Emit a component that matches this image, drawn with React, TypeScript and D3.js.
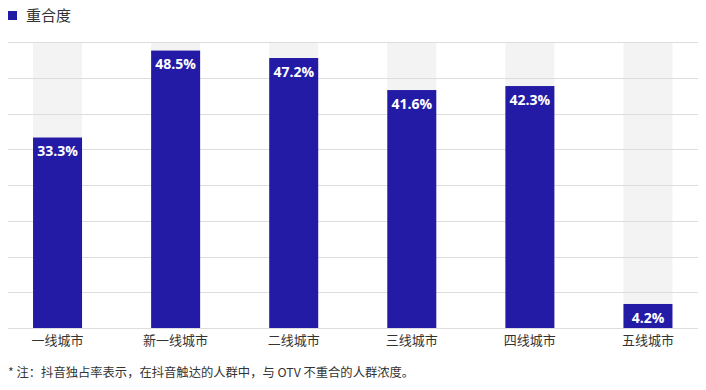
import { useEffect, useRef } from "react";
import * as d3 from "d3";

const categories = ["一线城市", "新一线城市", "二线城市", "三线城市", "四线城市", "五线城市"];
const values = [33.3, 48.5, 47.2, 41.6, 42.3, 4.2];
const legendLabel = "重合度";
const footnote = "* 注：抖音独占率表示，在抖音触达的人群中，与 OTV 不重合的人群浓度。";

const W = 706;
const H = 390;

const App = () => {
  const svgRef = useRef<SVGSVGElement>(null);

  useEffect(() => {
    const svg = d3.select(svgRef.current);
    svg.selectAll("*").remove();

    const font = "'Noto Sans CJK SC', 'Noto Sans', sans-serif";
    const top = 42;
    const bottom = 328;
    const left = 8;
    const right = 698;

    const x = d3
      .scaleBand()
      .domain(categories)
      .range([-1.5, 707])
      .paddingInner(0.585)
      .paddingOuter(0.2925);

    const y = d3.scaleLinear().domain([0, 50]).range([bottom, top]);

    // legend
    svg.append("rect").attr("x", 8).attr("y", 11).attr("width", 9).attr("height", 9).attr("fill", "#231ba6");
    svg
      .append("text")
      .attr("x", 26)
      .attr("y", 16)
      .attr("dy", "0.36em")
      .attr("font-family", font)
      .attr("font-size", 15)
      .attr("fill", "#333")
      .text(legendLabel);

    // background bars
    svg
      .selectAll(".bg")
      .data(categories)
      .enter()
      .append("rect")
      .attr("x", (d) => x(d)!)
      .attr("y", top)
      .attr("width", x.bandwidth())
      .attr("height", bottom - top)
      .attr("fill", "#f3f3f3");

    // grid
    const ticks = d3.range(0, 9).map((i) => i * 6.25);
    svg
      .selectAll(".grid")
      .data(ticks)
      .enter()
      .append("line")
      .attr("x1", left)
      .attr("x2", right)
      .attr("y1", (d) => Math.round(y(d)) + 0.5)
      .attr("y2", (d) => Math.round(y(d)) + 0.5)
      .attr("stroke", "#dddddd")
      .attr("stroke-width", 1);

    // bars
    svg
      .selectAll(".bar")
      .data(values)
      .enter()
      .append("rect")
      .attr("x", (d, i) => x(categories[i])!)
      .attr("y", (d) => y(d))
      .attr("width", x.bandwidth())
      .attr("height", (d) => bottom - y(d))
      .attr("fill", "#231ba6");

    // value labels
    svg
      .selectAll(".val")
      .data(values)
      .enter()
      .append("text")
      .attr("x", (d, i) => x(categories[i])! + x.bandwidth() / 2)
      .attr("y", (d) => y(d) + 13.5)
      .attr("dy", "0.36em")
      .attr("text-anchor", "middle")
      .attr("font-family", "'Open Sans', 'Noto Sans', sans-serif")
      .attr("font-weight", "bold")
      .attr("font-size", 14)
      .attr("fill", "#fff")
      .text((d) => d.toFixed(1) + "%");

    // category labels
    svg
      .selectAll(".cat")
      .data(categories)
      .enter()
      .append("text")
      .attr("x", (d) => x(d)! + x.bandwidth() / 2)
      .attr("y", 340)
      .attr("dy", "0.36em")
      .attr("text-anchor", "middle")
      .attr("font-family", font)
      .attr("font-size", 13)
      .attr("fill", "#333")
      .text((d) => d);

    // footnote
    svg
      .append("text")
      .attr("x", 8)
      .attr("y", 373)
      .attr("dy", "0.36em")
      .attr("font-family", font)
      .attr("font-size", 12.3)
      .attr("fill", "#333")
      .text(footnote);
  }, []);

  return (
    <svg
      ref={svgRef}
      width={W}
      height={H}
      style={{ position: "absolute", left: 0, top: 0, background: "#fff" }}
    ></svg>
  );
};

export default App;
